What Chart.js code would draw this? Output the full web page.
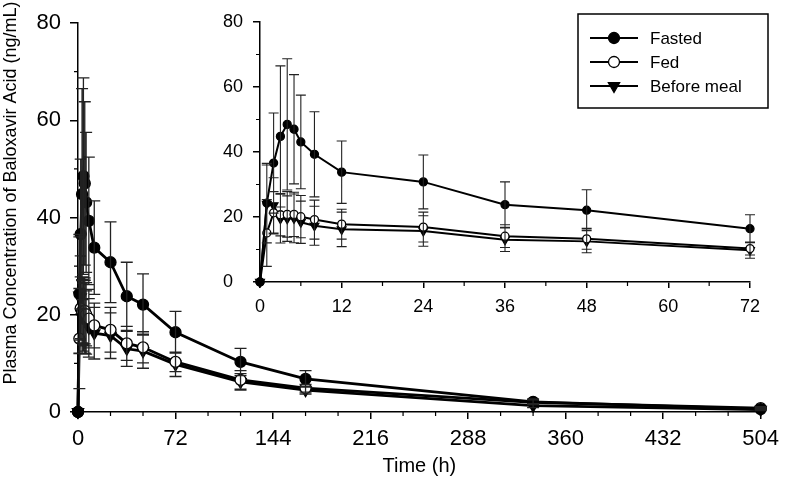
<!DOCTYPE html>
<html>
<head>
<meta charset="utf-8">
<script src="https://cdn.jsdelivr.net/npm/chart.js@4.4.1/dist/chart.umd.min.js"></script>
<style>
  html, body { margin: 0; padding: 0; background: #fff; }
  #wrap { position: relative; width: 786px; height: 496px; }
  #mainChart { position: absolute; left: 0; top: 0; }
  #insetChart { position: absolute; left: 200px; top: 0; }
</style>
</head>
<body>
<div id="wrap">
  <canvas id="mainChart" width="786" height="496"></canvas>
  <canvas id="insetChart" width="586" height="330"></canvas>
</div>
<script>
// Dados (média e desvio padrão, ng/mL)
const times = [0, 1, 2, 3, 4, 5, 6, 8, 12, 24, 36, 48, 72, 120, 168, 336, 504];

const fasted     = [0, 24.3, 36.6, 44.8, 48.5, 47.0, 43.1, 39.3, 33.8, 30.8, 23.8, 22.1, 16.4, 10.3, 6.8, 2.1, 0.6];
const fastedSD   = [0, 12.2, 15.4, 21.7, 20.2, 16.8, 14.4, 13.1, 9.6, 8.3, 7.0, 6.3, 4.3, 2.8, 1.7, 0.6, 0.3];

const fed        = [0, 15.1, 21.3, 20.7, 20.8, 20.8, 20.1, 19.2, 17.8, 16.9, 14.1, 13.3, 10.3, 6.6, 4.9, 2.0, 0.8];
const fedSD      = [0, 10.3, 6.5, 6.5, 7.0, 6.8, 6.5, 6.0, 4.6, 4.6, 3.5, 3.2, 2.0, 1.9, 0.8, 0.5, 0.3];

const beforeMeal   = [0, 24.0, 23.6, 19.5, 19.5, 19.6, 18.4, 17.3, 16.2, 15.7, 13.0, 12.5, 9.8, 6.2, 4.5, 1.3, 0.5];
const beforeMealSD = [0, 12.0, 8.5, 7.5, 7.0, 7.5, 6.5, 6.0, 5.3, 4.7, 3.6, 3.5, 2.5, 1.7, 0.8, 0.4, 0.2];

const mainXTicks  = [0, 72, 144, 216, 288, 360, 432, 504];
const insetXTicks = [0, 12, 24, 36, 48, 60, 72];
const yTicks      = [0, 20, 40, 60, 80];

const FONT = "'Liberation Sans', Arial, Helvetica, sans-serif";
Chart.defaults.font.family = FONT;
Chart.defaults.color = '#000';

/**
 * Monta os datasets (só os pontos até maxTime)
 */
function buildDatasets(maxTime, sz) {
  const idx = times.map((t, i) => i).filter(i => times[i] <= maxTime);
  const series = [
    { label: 'Fasted',      mean: fasted,     sd: fastedSD,     style: 'circle',   bg: '#000', rot: 0,   r: sz.circle },
    { label: 'Fed',         mean: fed,        sd: fedSD,        style: 'circle',   bg: '#fff', rot: 0,   r: sz.circle },
    { label: 'Before meal', mean: beforeMeal, sd: beforeMealSD, style: 'triangle', bg: '#000', rot: 180, r: sz.tri }
  ];
  return series.map(s => ({
    label: s.label,
    data: idx.map(i => ({ x: times[i], y: s.mean[i] })),
    sd: idx.map(i => s.sd[i]),
    borderColor: '#000',
    borderWidth: sz.line,
    pointStyle: s.style,
    pointRotation: s.rot,
    pointRadius: s.r,
    pointBackgroundColor: s.bg,
    pointBorderColor: '#000',
    pointBorderWidth: 1.3,
    tension: 0,
    clip: false
  }));
}

// Barras de erro (média ± DP)
const errorBars = {
  id: 'errorBars',
  afterDatasetsDraw(chart, args, opts) {
    const { ctx, scales: { x, y } } = chart;
    ctx.save();
    ctx.strokeStyle = '#222';
    ctx.lineWidth = opts.lineWidth;
    ctx.beginPath();
    chart.data.datasets.forEach(ds => {
      ds.data.forEach((p, i) => {
        const sd = ds.sd[i];
        if (!sd) return;
        const px = x.getPixelForValue(p.x);
        const top = y.getPixelForValue(p.y + sd);
        const bot = y.getPixelForValue(Math.max(p.y - sd, 0));
        ctx.moveTo(px, top); ctx.lineTo(px, bot);
        ctx.moveTo(px - opts.cap, top); ctx.lineTo(px + opts.cap, top);
        ctx.moveTo(px - opts.cap, bot); ctx.lineTo(px + opts.cap, bot);
      });
    });
    ctx.stroke();
    ctx.restore();
  }
};

// Ticks menores nos eixos
const minorTicks = {
  id: 'minorTicks',
  afterDraw(chart, args, opts) {
    const { ctx, chartArea, scales: { x, y } } = chart;
    ctx.save();
    ctx.strokeStyle = '#000';
    ctx.lineWidth = 1.2;
    ctx.beginPath();
    for (let v = x.min + opts.xStep; v < x.max; v += opts.xStep) {
      if (v % opts.xMajor === 0) continue;
      const px = x.getPixelForValue(v);
      ctx.moveTo(px, chartArea.bottom);
      ctx.lineTo(px, chartArea.bottom + opts.len);
    }
    for (let v = y.min + opts.yStep; v < y.max; v += opts.yStep) {
      if (v % opts.yMajor === 0) continue;
      const py = y.getPixelForValue(v);
      ctx.moveTo(chartArea.left, py);
      ctx.lineTo(chartArea.left - opts.len, py);
    }
    ctx.stroke();
    ctx.restore();
  }
};

// Título do eixo Y (posição livre, como na figura)
const yTitle = {
  id: 'yTitle',
  afterDraw(chart, args, o) {
    const ctx = chart.ctx;
    ctx.save();
    ctx.translate(o.x, o.y);
    ctx.rotate(-Math.PI / 2);
    ctx.font = o.font;
    ctx.fillStyle = '#000';
    ctx.textAlign = 'center';
    ctx.textBaseline = 'middle';
    ctx.fillText(o.text, 0, 0);
    ctx.restore();
  }
};

// Legenda com caixa (linha + marcador)
const legendBox = {
  id: 'legendBox',
  afterDraw(chart, args, o) {
    const ctx = chart.ctx;
    ctx.save();
    ctx.fillStyle = '#fff';
    ctx.fillRect(o.x, o.y, o.w, o.h);
    ctx.strokeStyle = '#000';
    ctx.lineWidth = 1.5;
    ctx.strokeRect(o.x, o.y, o.w, o.h);
    ctx.font = o.font;
    ctx.textBaseline = 'middle';
    ctx.textAlign = 'left';
    chart.data.datasets.forEach((ds, i) => {
      const cy = o.y + o.firstRow + i * o.rowGap;
      ctx.strokeStyle = '#000';
      ctx.lineWidth = 2;
      ctx.beginPath();
      ctx.moveTo(o.x + o.lineStart, cy);
      ctx.lineTo(o.x + o.lineEnd, cy);
      ctx.stroke();
      ctx.fillStyle = ds.pointBackgroundColor;
      ctx.lineWidth = 1.3;
      Chart.helpers.drawPoint(ctx, {
        pointStyle: ds.pointStyle,
        rotation: ds.pointRotation,
        radius: ds.pointStyle === 'triangle' ? 6.5 : 5.5,
        borderWidth: 1.3
      }, o.x + (o.lineStart + o.lineEnd) / 2, cy);
      ctx.fillStyle = '#000';
      ctx.fillText(ds.label, o.x + o.textX, cy + 1);
    });
    ctx.restore();
  }
};

function axisCommon(tickArr, fontSize, tickLen, pad) {
  return {
    type: 'linear',
    min: tickArr[0],
    max: tickArr[tickArr.length - 1],
    afterBuildTicks: scale => { scale.ticks = tickArr.map(v => ({ value: v })); },
    border: { color: '#000', width: 1.5 },
    grid: { drawOnChartArea: false, drawTicks: true, tickLength: tickLen, color: '#000', lineWidth: 1.5 },
    ticks: { font: { size: fontSize }, padding: pad, autoSkip: false, maxRotation: 0, color: '#000' }
  };
}

// Gráfico principal (0–504 h)
const mainX = axisCommon(mainXTicks, 22, 7, 7);
mainX.afterFit = s => { s.height = 84; };
mainX.title = { display: true, text: 'Time (h)', font: { size: 20 }, padding: { top: 0, bottom: 18 }, color: '#000' };

const mainY = axisCommon(yTicks, 22, 8, 9);
mainY.afterFit = s => { s.width = 78; };

new Chart(document.getElementById('mainChart'), {
  type: 'line',
  data: { datasets: buildDatasets(504, { circle: 5.5, tri: 6.5, line: 2.8 }) },
  options: {
    responsive: false,
    animation: false,
    events: [],
    layout: { padding: { top: 23, right: 20, left: 0, bottom: 0 } },
    scales: { x: mainX, y: mainY },
    plugins: {
      legend: { display: false },
      tooltip: { enabled: false },
      errorBars: { lineWidth: 1.3, cap: 6 },
      minorTicks: { xStep: 24, xMajor: 72, yStep: 10, yMajor: 20, len: 4 },
      yTitle: { x: 11, y: 193, text: 'Plasma Concentration of Baloxavir Acid (ng/mL)', font: '18px ' + FONT },
      legendBox: { x: 578, y: 14, w: 190, h: 94, firstRow: 24, rowGap: 24, lineStart: 12, lineEnd: 60, textX: 72, font: '17px ' + FONT }
    }
  },
  plugins: [errorBars, minorTicks, yTitle, legendBox]
});

// Gráfico inserido (0–72 h)
const insetX = axisCommon(insetXTicks, 18, 6, 8);
insetX.afterFit = s => { s.height = 48; };

const insetY = axisCommon(yTicks, 18, 7, 10);
insetY.ticks.crossAlign = 'far';
insetY.afterFit = s => { s.width = 37; };

new Chart(document.getElementById('insetChart'), {
  type: 'line',
  data: { datasets: buildDatasets(72, { circle: 4, tri: 5, line: 2 }) },
  options: {
    responsive: false,
    animation: false,
    events: [],
    layout: { padding: { top: 22, right: 36, left: 23, bottom: 0 } },
    scales: { x: insetX, y: insetY },
    plugins: {
      legend: { display: false },
      tooltip: { enabled: false },
      errorBars: { lineWidth: 1.1, cap: 5 },
      minorTicks: { xStep: 6, xMajor: 12, yStep: 10, yMajor: 20, len: 4 }
    }
  },
  plugins: [errorBars, minorTicks]
});
</script>
</body>
</html>
